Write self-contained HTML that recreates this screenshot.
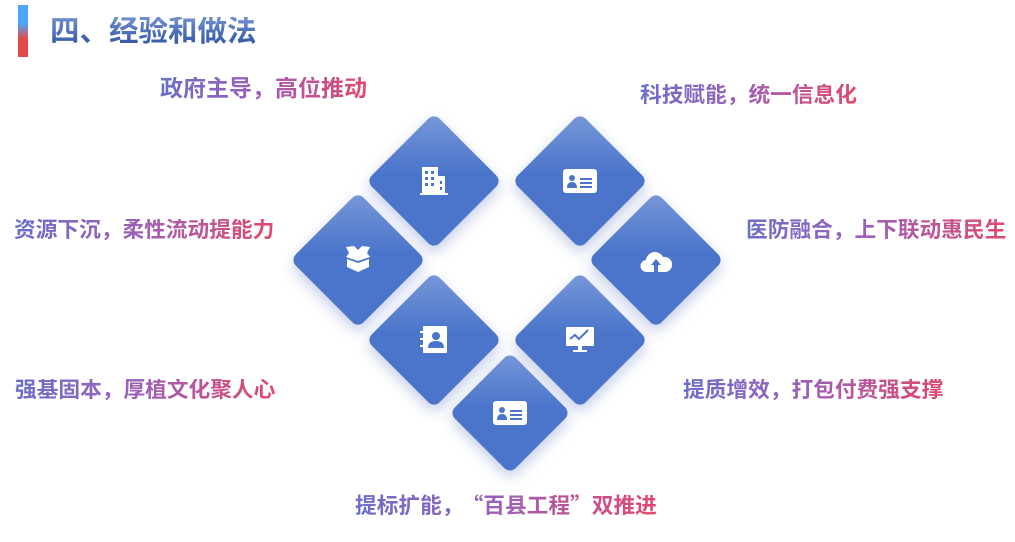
<!DOCTYPE html>
<html><head><meta charset="utf-8"><style>
body{margin:0;width:1015px;height:542px;background:#fff;position:relative;overflow:hidden;font-family:"Liberation Sans","Noto Sans CJK SC",sans-serif}
.bar{position:absolute;left:18px;top:5px;width:10px;height:52px;background:linear-gradient(#4aa8ff 0%,#4aa8ff 35%,#e34a4a 65%,#e34a4a 100%)}
.title{position:absolute;left:50px;top:17px;font-size:29.5px;font-weight:bold;line-height:1;color:#3a5fb0;background:linear-gradient(#7090d0,#2f52a2);-webkit-background-clip:text;background-clip:text;-webkit-text-fill-color:transparent;white-space:nowrap}
.t{position:absolute;font-size:21.7px;font-weight:bold;line-height:1;white-space:nowrap;background:linear-gradient(90deg,#6b6fcc,#a05eb6 50%,#e2486c);-webkit-background-clip:text;background-clip:text;-webkit-text-fill-color:transparent}
.q{font-family:"Noto Sans CJK SC",sans-serif}
.d{position:absolute;width:96px;height:96px;border-radius:8px;transform:rotate(45deg);background:linear-gradient(135deg,#7898d8 0%,#4a75cb 45%);box-shadow:4px 4px 14px rgba(80,110,190,.35)}
.i{position:absolute;transform:translate(-50%,-50%)}
</style></head><body>
<div class="bar"></div>
<div class="title">四、经验和做法</div>

<div class="t" style="left:160px;top:77px;font-size:23px">政府主导，高位推动</div>
<div class="t" style="left:640px;top:84px">科技赋能，统一信息化</div>
<div class="t" style="left:14px;top:219px">资源下沉，柔性流动提能力</div>
<div class="t" style="left:746px;top:219px">医防融合，上下联动惠民生</div>
<div class="t" style="left:15px;top:379px">强基固本，厚植文化聚人心</div>
<div class="t" style="left:683px;top:379px">提质增效，打包付费强支撑</div>
<div class="t" style="left:355px;top:494px">提标扩能，<span style="margin-left:9px"></span><span class="q">“</span>百县工程<span class="q">”</span>双推进</div>

<div class="d" style="left:386px;top:133px"></div>
<div class="d" style="left:532px;top:133px"></div>
<div class="d" style="left:310px;top:212px"></div>
<div class="d" style="left:608px;top:212px"></div>
<div class="d" style="left:386px;top:292px"></div>
<div class="d" style="left:532px;top:292px"></div>
<div class="d" style="left:467px;top:370px;width:86px;height:86px"></div>

<svg class="i" style="left:434px;top:181px" width="30" height="30" viewBox="0 0 30 30"><rect x="3" y="1" width="16" height="26" fill="#fff"/><rect x="19" y="10" width="7" height="17" fill="#fff"/><rect x="1" y="27" width="28" height="2" fill="#fff"/><g fill="#4a75cb"><rect x="6" y="5" width="3" height="3"/><rect x="12" y="5" width="3" height="3"/><rect x="6" y="11" width="3" height="3"/><rect x="12" y="11" width="3" height="3"/><rect x="6" y="17" width="3" height="3"/><rect x="12" y="17" width="3" height="3"/><rect x="21" y="15" width="2" height="3"/><rect x="21" y="21" width="2" height="3"/></g></svg>
<svg class="i" style="left:580px;top:181px" width="34" height="24" viewBox="0 0 34 24"><rect width="34" height="24" rx="3" fill="#fff"/><circle cx="9" cy="9" r="3" fill="#4a75cb"/><path d="M4 19q0-6 5-6t5 6z" fill="#4a75cb"/><rect x="17" y="9" width="12" height="2" fill="#4a75cb"/><rect x="17" y="13" width="12" height="2" fill="#4a75cb"/><rect x="17" y="17" width="12" height="2" fill="#4a75cb"/></svg>
<svg class="i" style="left:358px;top:259px" width="32" height="28" viewBox="0 0 32 28"><path d="M4 2l8-1 4 4 4-4 8 1-3 6 3 4-12 4-12-4 3-4z" fill="#fff"/><path d="M5 14l11 4 11-4v8l-11 5-11-5z" fill="#fff"/></svg>
<svg class="i" style="left:656px;top:261px" width="34" height="24" viewBox="0 0 34 24"><path d="M8 23a6 6 0 0 1-1-12 9 9 0 0 1 17-3 7 7 0 0 1 3 15z" fill="#fff"/><path d="M17 10l-5 6h3v7h4v-7h3z" fill="#4a75cb"/></svg>
<svg class="i" style="left:434px;top:340px" width="30" height="30" viewBox="0 0 30 30"><rect x="4" y="1" width="24" height="27" rx="1" fill="#fff"/><rect x="1" y="6" width="5" height="2" fill="#fff"/><rect x="1" y="13" width="5" height="2" fill="#fff"/><rect x="1" y="20" width="5" height="2" fill="#fff"/><circle cx="17" cy="11" r="4" fill="#4a75cb"/><path d="M9 23q0-7 8-7t8 7z" fill="#4a75cb"/></svg>
<svg class="i" style="left:580px;top:340px" width="30" height="28" viewBox="0 0 30 28"><rect x="1" y="1" width="28" height="19" rx="1" fill="#fff"/><rect x="13" y="20" width="4" height="4" fill="#fff"/><rect x="8" y="24" width="14" height="2" fill="#fff"/><path d="M5 13l5-4 4 4 9-9" stroke="#4a75cb" stroke-width="2" fill="none"/></svg>
<svg class="i" style="left:510px;top:413px" width="34" height="24" viewBox="0 0 34 24"><rect width="34" height="24" rx="3" fill="#fff"/><circle cx="9" cy="9" r="3" fill="#4a75cb"/><path d="M4 19q0-6 5-6t5 6z" fill="#4a75cb"/><rect x="17" y="9" width="12" height="2" fill="#4a75cb"/><rect x="17" y="13" width="12" height="2" fill="#4a75cb"/><rect x="17" y="17" width="12" height="2" fill="#4a75cb"/></svg>
</body></html>
